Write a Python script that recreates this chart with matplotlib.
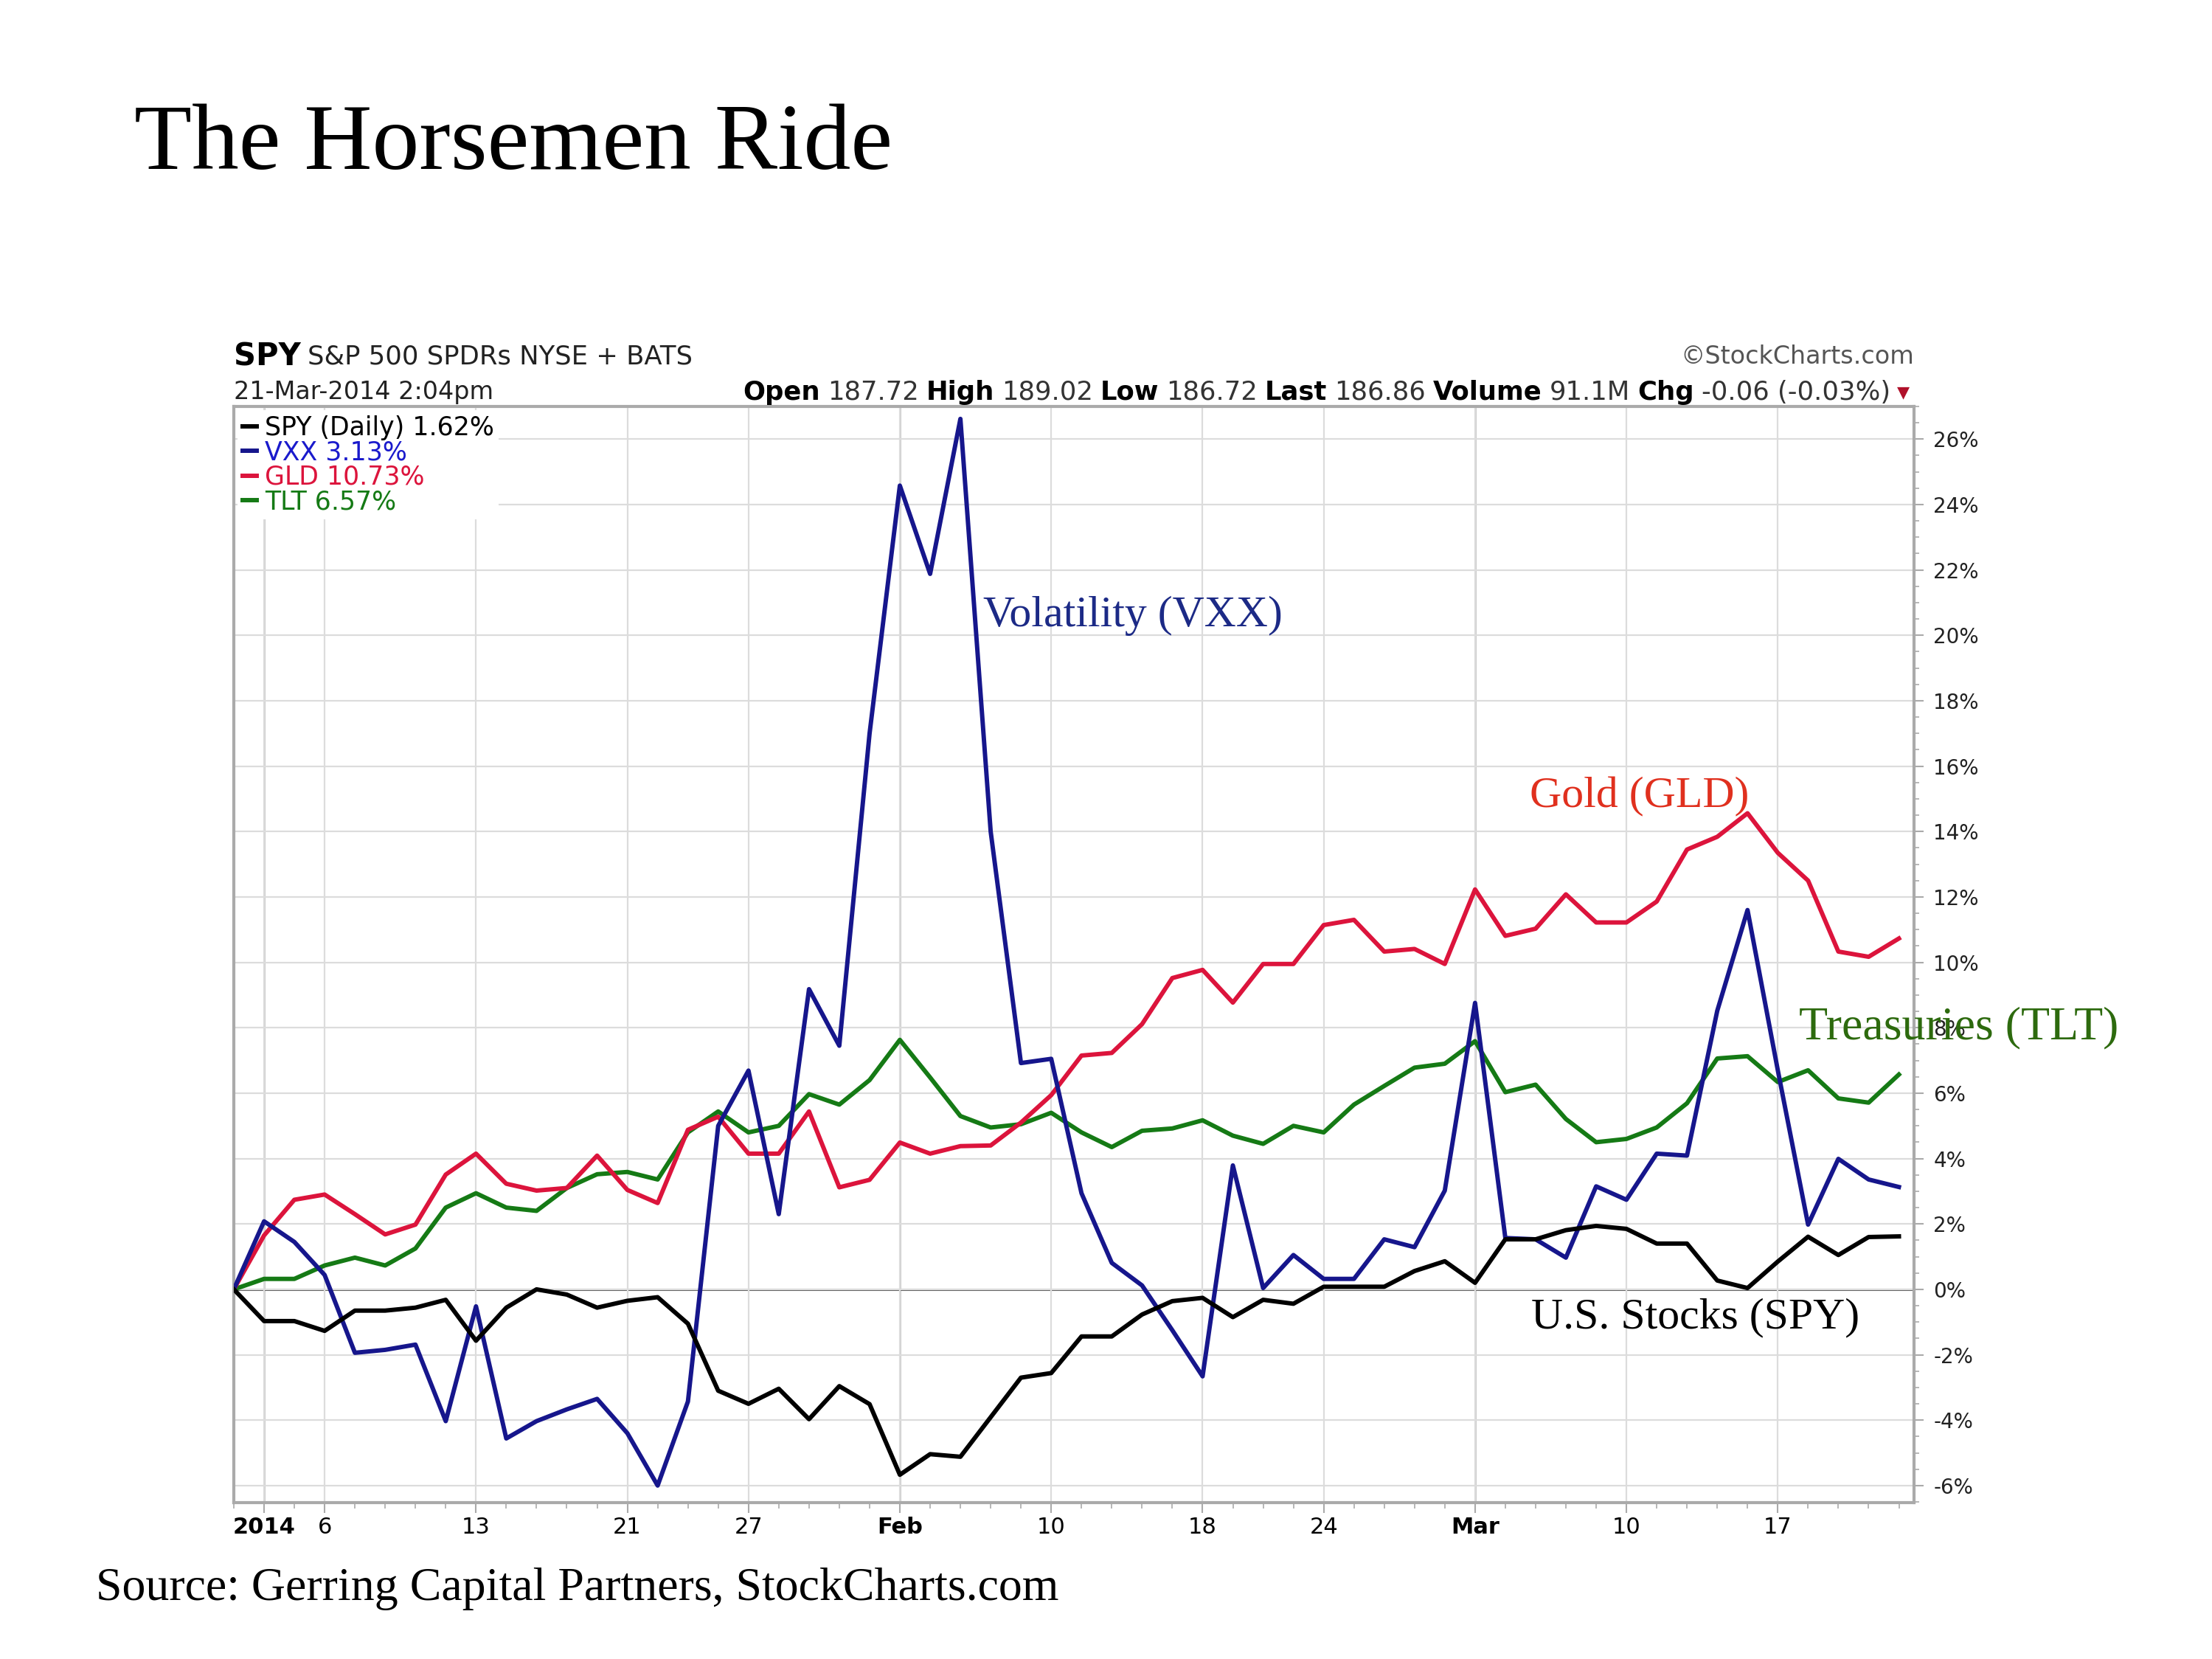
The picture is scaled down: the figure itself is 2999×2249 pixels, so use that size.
import matplotlib
matplotlib.use("Agg")
import matplotlib.pyplot as plt
import pandas as pd
from matplotlib.ticker import MultipleLocator, FuncFormatter

# trading days 31-Dec-2013 .. 21-Mar-2014 (market holidays removed)
dates = pd.bdate_range("2013-12-31", "2014-03-21").drop(
    pd.to_datetime(["2014-01-01", "2014-01-20", "2014-02-17"]))

# % change since 31-Dec-2013
spy = [0.0, -0.97, -0.97, -1.27, -0.65, -0.65, -0.56, -0.32, -1.57, -0.56,
       0.0, -0.16, -0.56, -0.35, -0.24, -1.05, -3.1, -3.5, -3.04, -3.97,
       -2.96, -3.51, -5.67, -5.04, -5.12, -3.91, -2.7, -2.56, -1.44, -1.44,
       -0.77, -0.36, -0.26, -0.85, -0.32, -0.44, 0.08, 0.08, 0.08, 0.56,
       0.86, 0.2, 1.53, 1.53, 1.81, 1.94, 1.85, 1.4, 1.4, 0.27,
       0.04, 0.85, 1.61, 1.05, 1.6, 1.62]
vxx = [0.0, 2.08, 1.45, 0.44, -1.94, -1.85, -1.69, -4.03, -0.52, -4.56,
       -4.03, -3.67, -3.35, -4.4, -6.0, -3.43, 5.0, 6.69, 2.3, 9.18,
       7.45, 17.0, 24.58, 21.88, 26.62, 14.0, 6.92, 7.05, 2.94, 0.81,
       0.12, -1.25, -2.66, 3.79, 0.04, 1.05, 0.32, 0.32, 1.53, 1.29,
       3.02, 8.76, 1.57, 1.53, 0.97, 3.15, 2.74, 4.15, 4.09, 8.52,
       11.6, 6.7, 1.98, 3.99, 3.36, 3.13]
gld = [0.0, 1.65, 2.74, 2.9, 2.3, 1.68, 1.98, 3.51, 4.15, 3.23,
       3.02, 3.1, 4.09, 3.04, 2.64, 4.88, 5.28, 4.15, 4.15, 5.44,
       3.12, 3.35, 4.49, 4.15, 4.38, 4.4, 5.1, 5.94, 7.15, 7.23,
       8.11, 9.52, 9.77, 8.77, 9.95, 9.95, 11.14, 11.3, 10.33, 10.41,
       9.95, 12.23, 10.81, 11.03, 12.08, 11.22, 11.22, 11.86, 13.45, 13.84,
       14.56, 13.35, 12.5, 10.33, 10.17, 10.73]
tlt = [0.0, 0.32, 0.32, 0.73, 0.97, 0.73, 1.25, 2.5, 2.94, 2.5,
       2.4, 3.1, 3.52, 3.59, 3.36, 4.8, 5.44, 4.8, 5.0, 5.97,
       5.65, 6.4, 7.63, 6.48, 5.3, 4.95, 5.05, 5.4, 4.8, 4.35,
       4.85, 4.92, 5.17, 4.7, 4.45, 5.0, 4.8, 5.65, 6.22, 6.78,
       6.9, 7.59, 6.03, 6.26, 5.21, 4.5, 4.6, 4.95, 5.69, 7.06,
       7.13, 6.34, 6.7, 5.84, 5.71, 6.57]

tick_dates = ["2014-01-02", "2014-01-06", "2014-01-13", "2014-01-21", "2014-01-27",
              "2014-02-03", "2014-02-10", "2014-02-18", "2014-02-24",
              "2014-03-03", "2014-03-10", "2014-03-17"]
tick_labels = ["2014", "6", "13", "21", "27", "Feb", "10", "18", "24", "Mar", "10", "17"]
bold_ticks = ["2014", "Feb", "Mar"]

serif = "Liberation Serif"
sans = "DejaVu Sans"

x = list(range(len(dates)))
tick_pos = [dates.get_loc(pd.Timestamp(d)) for d in tick_dates]

fig = plt.figure(figsize=(29.99, 22.49), dpi=100)
fig.patch.set_facecolor("white")
ax = fig.add_axes([0.1057, 0.0943, 0.7596, 0.6607])

ax.set_xlim(0, 55.5)
ax.set_ylim(-6.52, 27.0)

# grid
ax.set_yticks(range(-6, 27, 2))
ax.set_xticks(tick_pos, tick_labels)
ax.grid(True, color="#dcdcdc", lw=1.6, zorder=0)
for p, lab in zip(tick_pos, tick_labels):
    if lab in bold_ticks:
        ax.axvline(p, color="#b8b8b8", lw=1.8, zorder=0.5)
ax.axhline(0, color="#555555", lw=2.2, zorder=1)

lw = 4.3
ax.plot(x, tlt, color="#157a15", lw=lw, label="TLT 6.57%", zorder=3)
ax.plot(x, gld, color="#dc143c", lw=lw, label="GLD 10.73%", zorder=3)
ax.plot(x, vxx, color="#16168c", lw=lw, label="VXX 3.13%", zorder=4)
ax.plot(x, spy, color="#000000", lw=lw, label="SPY (Daily) 1.62%", zorder=5)

# legend in stockcharts order
h, l = ax.get_legend_handles_labels()
order = [3, 2, 1, 0]
leg = ax.legend([h[i] for i in order], [l[i] for i in order], loc="upper left",
                bbox_to_anchor=(0.0, 1.0), fontsize=25, frameon=True,
                facecolor="white", edgecolor="none", framealpha=1,
                handlelength=0.55, handletextpad=0.3, labelspacing=-0.02,
                borderpad=0.2, borderaxespad=0.15, fancybox=False)
for t, c in zip(leg.get_texts(), ["#000000", "#1a1acc", "#dc143c", "#157a15"]):
    t.set_color(c)

# axes styling
for s in ax.spines.values():
    s.set_color("#aaaaaa")
    s.set_linewidth(3)
ax.yaxis.tick_right()
ax.yaxis.set_minor_locator(MultipleLocator(0.5))
ax.yaxis.set_major_formatter(FuncFormatter(lambda v, p: f"{v:.0f}%"))
ax.tick_params(axis="y", which="major", direction="out", length=9, width=1.5,
               color="#aaaaaa", labelsize=20, pad=10, labelcolor="#222222")
ax.tick_params(axis="y", which="minor", direction="out", length=5, width=1.2, color="#aaaaaa")
ax.xaxis.set_minor_locator(MultipleLocator(1))
ax.tick_params(axis="x", which="major", direction="out", length=10, width=1.5,
               color="#aaaaaa", labelsize=22, pad=4)
ax.tick_params(axis="x", which="minor", direction="out", length=6, width=1.2, color="#aaaaaa")
for t in ax.get_xticklabels():
    if t.get_text() in bold_ticks:
        t.set_fontweight("bold")

# annotations
ann = dict(family=serif, ha="left", va="center")
ax.text(24.76, 20.6, "Volatility (VXX)", color="#1c2a86", fontsize=43, **ann)
ax.text(42.8, 15.06, "Gold (GLD)", color="#e0301e", fontsize=43, **ann)
ax.text(51.7, 7.99, "Treasuries (TLT)", color="#2d6a0e", fontsize=46, zorder=10, **ann)
ax.text(42.85, -0.86, "U.S. Stocks (SPY)", color="#000000", fontsize=43, **ann)

# title and source
fig.text(0.0607, 0.912, "The Horsemen Ride", fontsize=92, family=serif, va="center")
fig.text(0.0434, 0.0424, "Source: Gerring Capital Partners, StockCharts.com",
         fontsize=46, family=serif, va="center")

# stockcharts header
fig.text(0.1057, 0.785, "SPY", fontsize=30, fontweight="bold", family=sans, va="center")
fig.text(0.139, 0.785, "S&P 500 SPDRs NYSE + BATS", fontsize=25.5, family=sans,
         va="center", color="#222222")
fig.text(0.8653, 0.785, "\u00a9StockCharts.com", fontsize=24, family=sans,
         va="center", ha="right", color="#555555")
fig.text(0.1057, 0.7635, "21-Mar-2014 2:04pm", fontsize=24, family=sans,
         va="center", color="#222222")

runs = [("Open", True), ("187.72", False), ("High", True), ("189.02", False),
        ("Low", True), ("186.72", False), ("Last", True), ("186.86", False),
        ("Volume", True), ("91.1M", False), ("Chg", True), ("-0.06 (-0.03%)", False)]
renderer = fig.canvas.get_renderer()
W = fig.get_figwidth() * fig.dpi
items = []
for s, b in runs:
    t = fig.text(0, 0.7635, s, fontsize=25.5, family=sans, va="center",
                 fontweight="bold" if b else "normal",
                 color="#000000" if b else "#333333")
    items.append(t)
gap = 10
widths = [t.get_window_extent(renderer).width for t in items]
xpos = 0.8546 * W - sum(widths) - gap * (len(items) - 1)
for t, w in zip(items, widths):
    t.set_x(xpos / W)
    xpos += w + gap
fig.text(0.8575, 0.7635, "\u25bc", fontsize=16, family=sans, va="center", color="#b0102a")

fig.savefig("out.png", dpi=100)
